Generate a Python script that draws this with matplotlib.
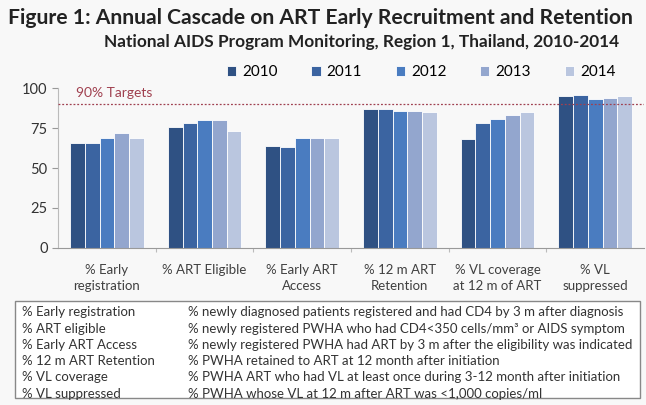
import numpy as np
import matplotlib
matplotlib.use("Agg")
import matplotlib.pyplot as plt
from matplotlib.patches import Rectangle

plt.rcParams['font.family'] = ['Lato', 'DejaVu Sans']

categories = ["% Early\nregistration", "% ART Eligible", "% Early ART\nAccess",
              "% 12 m ART\nRetention", "% VL coverage\nat 12 m of ART", "% VL\nsuppressed"]
years = ["2010", "2011", "2012", "2013", "2014"]
values = {
    "2010": [66, 76, 64, 87, 68, 95],
    "2011": [66, 78, 63, 87, 78, 96],
    "2012": [69, 80, 69, 86, 81, 93],
    "2013": [72, 80, 69, 86, 83, 94],
    "2014": [69, 73, 69, 85, 85, 95],
}
target = 90
colors = ["#2F5183", "#3B64A1", "#4A7CC0", "#93A6CE", "#BAC6DF"]

defs_left = ["% Early registration", "% ART eligible", "% Early ART Access",
             "% 12 m ART Retention", "% VL coverage", "% VL suppressed"]
defs_right = [
    "% newly diagnosed patients registered and had CD4 by 3 m after diagnosis",
    "% newly registered PWHA who had CD4<350 cells/mm\u00b3 or AIDS symptom",
    "% newly registered PWHA had ART by 3 m after the eligibility was indicated",
    "% PWHA retained to ART at 12 month after initiation",
    "% PWHA ART who had VL at least once during 3-12 month after initiation",
    "% PWHA whose VL at 12 m after ART was <1,000 copies/ml",
]

fig = plt.figure(figsize=(6.46, 4.05), dpi=100, facecolor="#F8F8F8")
ax = fig.add_axes([0.09, 0.388, 0.907, 0.394])
ax.set_facecolor("#F8F8F8")

x = np.arange(len(categories))
w = 0.151
for i, yr in enumerate(years):
    ax.bar(x + (i - 2) * w, values[yr], w, color=colors[i], edgecolor="white",
           linewidth=0.6, label=yr, zorder=2)

ax.axhline(target, color="#A04050", linestyle=(0, (1.5, 1.5)), linewidth=0.9, zorder=3)
ax.text(0.03, 0.935, "90% Targets", transform=ax.transAxes, color="#A0404F",
        fontsize=10, va="bottom", ha="left")

ax.set_xlim(-0.5, 5.5)
ax.set_ylim(0, 100)
ax.set_yticks([0, 25, 50, 75, 100])
ax.tick_params(axis="y", labelsize=10.5, colors="#999999", labelcolor="#333333", length=4)
ax.set_xticks(np.arange(0.5, 5.5, 1))
ax.set_xticklabels([])
ax.tick_params(axis="x", colors="#BBBBBB", length=3)
for s in ["top", "right"]:
    ax.spines[s].set_visible(False)
ax.spines["left"].set_color("#BBBBBB")
ax.spines["bottom"].set_color("#999999")

for xi, lab in zip(x, categories):
    ax.text(xi, -10, lab, ha="center", va="top", fontsize=9.5, color="#404040",
            linespacing=1.45)

handles, labels = ax.get_legend_handles_labels()
fig.legend(handles, labels, loc="center", bbox_to_anchor=(0.652, 0.822), ncol=5,
           frameon=False, fontsize=11, handlelength=0.6, handleheight=0.6,
           columnspacing=2.2, handletextpad=0.4)

fig.text(0.012, 0.955, "Figure 1: Annual Cascade on ART Early Recruitment and Retention",
         fontsize=15.2, fontweight="bold", color="#222222", va="center")
fig.text(0.161, 0.897, "National AIDS Program Monitoring, Region 1, Thailand, 2010-2014",
         fontsize=12.4, fontweight="bold", color="#222222", va="center")

fig.patches.append(Rectangle((15 / 646, 1 - 398 / 405), 625 / 646, 97 / 405,
                             transform=fig.transFigure, facecolor="white",
                             edgecolor="#888888", linewidth=1))
for k, (a, b) in enumerate(zip(defs_left, defs_right)):
    yy = 1 - (312.5 + k * 16.2) / 405
    fig.text(22 / 646, yy, a, fontsize=9.5, color="#333333", va="center")
    fig.text(188 / 646, yy, b, fontsize=9.5, color="#333333", va="center")

fig.savefig("out.png", dpi=100, facecolor=fig.get_facecolor())
